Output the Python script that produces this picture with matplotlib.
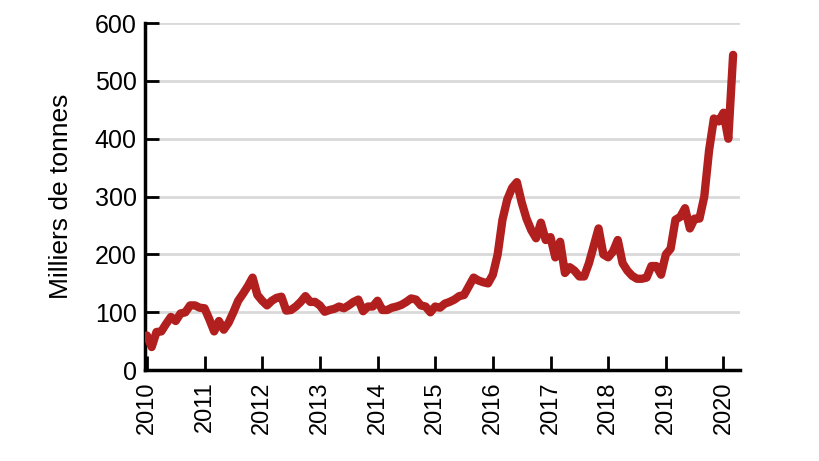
import numpy as np
import matplotlib
matplotlib.use("Agg")
import matplotlib.pyplot as plt
import matplotlib.transforms as mtransforms

# monthly values, Jan 2010 .. Mar 2020 (thousand tonnes)
v2010 = [60, 40, 66, 67, 80, 92, 85, 98, 100, 112, 112, 108]
v2011 = [107, 88, 67, 85, 70, 82, 100, 120, 132, 145, 160, 130]
v2012 = [120, 112, 120, 125, 127, 103, 104, 110, 118, 128, 118, 118]
v2013 = [112, 101, 104, 106, 110, 107, 112, 118, 122, 102, 110, 110]
v2014 = [120, 104, 104, 108, 110, 113, 118, 124, 122, 112, 110, 100]
v2015 = [110, 108, 115, 118, 122, 128, 130, 145, 160, 155, 152, 150]
v2016 = [165, 200, 260, 295, 315, 325, 290, 262, 242, 228, 255, 225]
v2017 = [230, 195, 222, 168, 178, 172, 162, 162, 185, 215, 245, 200]
v2018 = [195, 205, 225, 185, 172, 163, 158, 158, 160, 180, 180, 165]
v2019 = [200, 210, 260, 265, 280, 245, 262, 262, 300, 380, 435, 430]
v2020 = [445, 400, 545]

values = v2010 + v2011 + v2012 + v2013 + v2014 + v2015 + v2016 + v2017 + v2018 + v2019 + v2020
dates = 2010 + np.arange(len(values)) / 12.0
years = list(range(2010, 2021))

fig = plt.figure(figsize=(8.2, 4.61), dpi=100)
ax = fig.add_axes([0.177, 0.197, 0.725, 0.753])

for y in range(100, 601, 100):
    ax.axhline(y, color="#d9d9d9", lw=2, zorder=0)
ax.plot(dates, values, color="#b21f1f", lw=6, solid_joinstyle="round", solid_capstyle="round", zorder=3)

ax.set_xlim(2009.97, 2020.28)
ax.set_ylim(0, 600)
ax.set_yticks(range(0, 601, 100))
ax.set_xticks(years)
ax.set_xticklabels([str(y) for y in years], rotation=90)

for lab in ax.get_yticklabels():
    lab.set_fontsize(18)
    lab.set_fontfamily("Liberation Sans")
shift = mtransforms.ScaledTranslation(10 / 100, 0, fig.dpi_scale_trans)
for lab in ax.get_xticklabels():
    lab.set_fontsize(17)
    lab.set_fontfamily("Liberation Sans")
    lab.set_transform(lab.get_transform() + shift)

ax.tick_params(axis="both", direction="in", length=10, width=2, color="black", pad=6)
ax.tick_params(axis="x", pad=8)
for s in ["top", "right"]:
    ax.spines[s].set_visible(False)
for s in ["left", "bottom"]:
    ax.spines[s].set_linewidth(2.5)

ax.set_ylabel("Milliers de tonnes", fontsize=19, family="Liberation Sans", labelpad=16)

fig.savefig("out.png", dpi=100)
